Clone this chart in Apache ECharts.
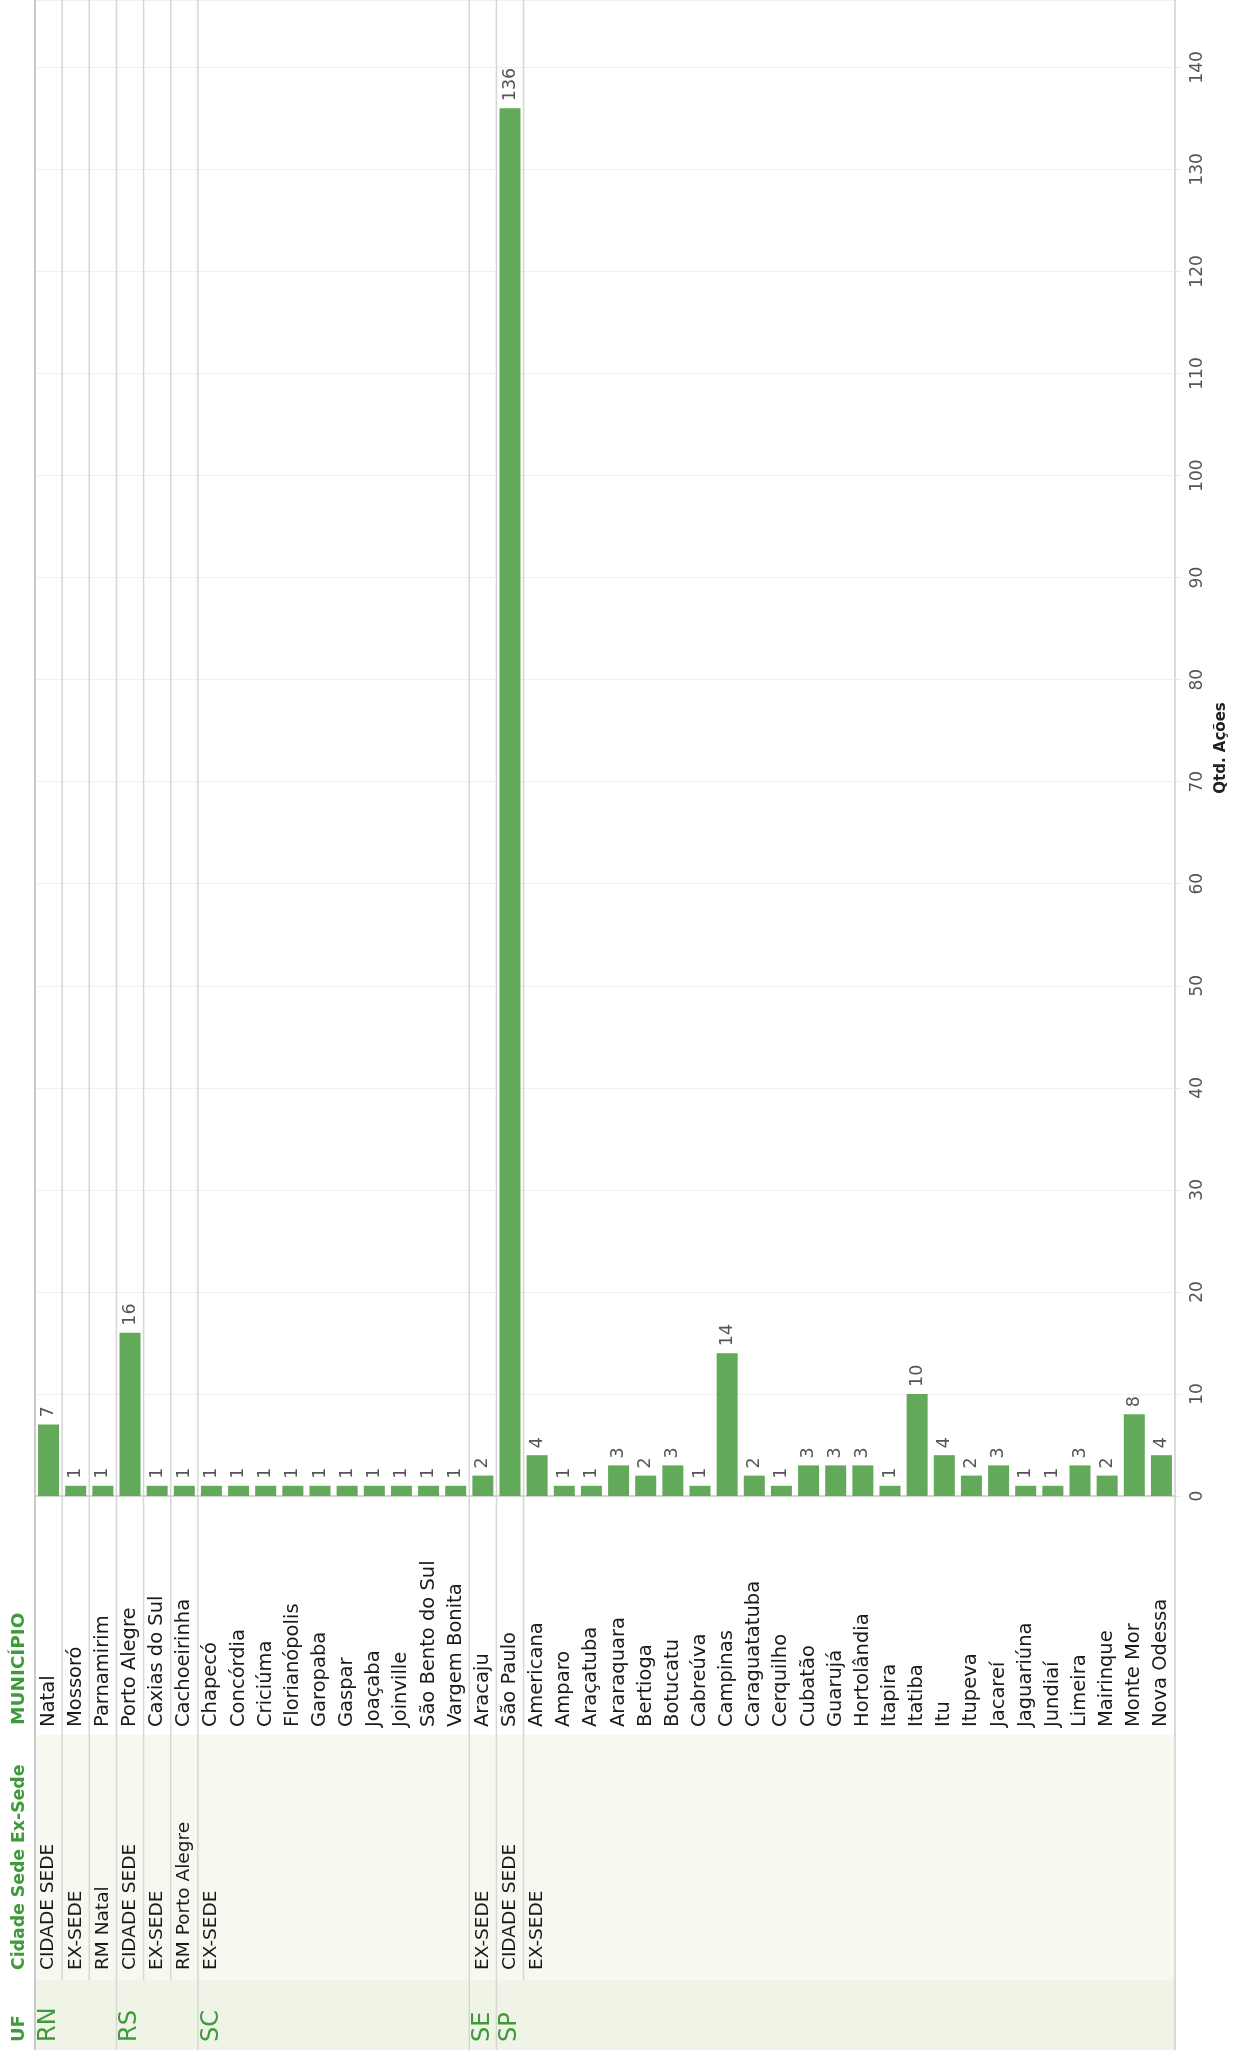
<!DOCTYPE html>
<html>
<head>
<meta charset="utf-8">
<script src="https://cdn.jsdelivr.net/npm/echarts@6/dist/echarts.min.js"></script>
<style>
html,body{margin:0;padding:0;background:#ffffff;}
#chart{width:1240px;height:2056px;}
</style>
</head>
<body>
<div id="chart"></div>
<script>
// ---------- DATA ----------
const municipios = [
  'Natal','Mossoró','Parnamirim',
  'Porto Alegre','Caxias do Sul','Cachoeirinha',
  'Chapecó','Concórdia','Criciúma','Florianópolis','Garopaba','Gaspar','Joaçaba','Joinville','São Bento do Sul','Vargem Bonita',
  'Aracaju',
  'São Paulo','Americana','Amparo','Araçatuba','Araraquara','Bertioga','Botucatu','Cabreúva','Campinas','Caraguatatuba','Cerquilho','Cubatão','Guarujá','Hortolândia','Itapira','Itatiba','Itu','Itupeva','Jacareí','Jaguariúna','Jundiaí','Limeira','Mairinque','Monte Mor','Nova Odessa'
];
const ufLinha = [
  'RN','RN','RN',
  'RS','RS','RS',
  'SC','SC','SC','SC','SC','SC','SC','SC','SC','SC',
  'SE',
  'SP','SP','SP','SP','SP','SP','SP','SP','SP','SP','SP','SP','SP','SP','SP','SP','SP','SP','SP','SP','SP','SP','SP','SP','SP'
];
const cidadeSede = [
  'CIDADE SEDE','EX-SEDE','RM Natal',
  'CIDADE SEDE','EX-SEDE','RM Porto Alegre',
  'EX-SEDE','EX-SEDE','EX-SEDE','EX-SEDE','EX-SEDE','EX-SEDE','EX-SEDE','EX-SEDE','EX-SEDE','EX-SEDE',
  'EX-SEDE',
  'CIDADE SEDE','EX-SEDE','EX-SEDE','EX-SEDE','EX-SEDE','EX-SEDE','EX-SEDE','EX-SEDE','EX-SEDE','EX-SEDE','EX-SEDE','EX-SEDE','EX-SEDE','EX-SEDE','EX-SEDE','EX-SEDE','EX-SEDE','EX-SEDE','EX-SEDE','EX-SEDE','EX-SEDE','EX-SEDE','EX-SEDE','EX-SEDE','EX-SEDE'
];
const qtdAcoes = [
  7,1,1,
  16,1,1,
  1,1,1,1,1,1,1,1,1,1,
  2,
  136,4,1,1,3,2,3,1,14,2,1,3,3,3,1,10,4,2,3,1,1,3,2,8,4
];
const eixoTicks = [0,10,20,30,40,50,60,70,80,90,100,110,120,130,140];
const cabecalhos = { municipio: 'MUNICÍPIO', cidade: 'Cidade Sede Ex-Sede', uf: 'UF' };
const tituloEixo = 'Qtd. Ações';

// ---------- STYLE / LAYOUT ----------
const FONT = 'DejaVu Sans';
const GREEN = '#3f9a3a';
const BAR = '#62a95a';
const SEP = '#d6d6d6';
const L = { left: 35, right: 1175, zero: 1496, munY: 1727, bandTop: 1735, ufTop: 1980, bottom: 2050, cidY: 1970, ufY: 2042 };

function renderHeader(params, api) {
  const i = params.dataIndex;
  const c = api.coord([i, 0]);
  const w = api.size([1, 0])[0];
  const xl = c[0] - w / 2;
  const kids = [];
  const novoUF = i === 0 || ufLinha[i] !== ufLinha[i - 1];
  const novoGrupo = novoUF || cidadeSede[i] !== cidadeSede[i - 1];
  if (novoGrupo) {
    kids.push({
      type: 'line',
      shape: { x1: xl, y1: 0, x2: xl, y2: novoUF ? L.bottom : L.ufTop },
      style: { stroke: i === 0 ? '#c9c9c9' : SEP, lineWidth: i === 0 ? 2 : 1.5 }
    });
    kids.push({
      type: 'text', x: c[0], y: L.cidY, rotation: Math.PI / 2,
      style: { text: cidadeSede[i], fontFamily: FONT, fontSize: 18.5, fill: '#1a1a1a', align: 'left', verticalAlign: 'middle' }
    });
  }
  if (novoUF) {
    kids.push({
      type: 'text', x: c[0], y: L.ufY, rotation: Math.PI / 2,
      style: { text: ufLinha[i], fontFamily: FONT, fontSize: 24, fill: GREEN, align: 'left', verticalAlign: 'middle' }
    });
  }
  if (i === municipios.length - 1) {
    kids.push({
      type: 'line',
      shape: { x1: xl + w, y1: L.zero, x2: xl + w, y2: L.bottom },
      style: { stroke: '#cfcfcf', lineWidth: 1.5 }
    });
  }
  return { type: 'group', children: kids };
}

const chart = echarts.init(document.getElementById('chart'), null, { renderer: 'canvas' });
chart.setOption({
  animation: false,
  backgroundColor: '#ffffff',
  grid: { left: L.left, right: 1240 - L.right, top: 0, bottom: 2056 - L.zero, containLabel: false },
  xAxis: {
    type: 'category',
    data: municipios,
    axisTick: { show: false },
    axisLine: { show: true, lineStyle: { color: '#d3d3d3', width: 2 } },
    splitLine: { show: false },
    axisLabel: {
      interval: 0, rotate: 90, align: 'left', verticalAlign: 'middle',
      margin: L.munY - L.zero,
      fontFamily: FONT, fontSize: 19.5, color: '#1a1a1a'
    }
  },
  yAxis: {
    type: 'value',
    position: 'right',
    min: 0, max: 146.6, interval: 10,
    axisLine: { show: true, lineStyle: { color: '#cfcfcf', width: 1.5 } },
    axisTick: { show: true, length: 7, lineStyle: { color: '#ececec' } },
    splitLine: { show: true, lineStyle: { color: '#f0f0f0', width: 1 } },
    axisLabel: {
      showMaxLabel: false, rotate: 90, margin: 14,
      fontFamily: FONT, fontSize: 17, color: '#555555',
      formatter: v => (eixoTicks.indexOf(v) >= 0 ? String(v) : '')
    },
    name: tituloEixo,
    nameLocation: 'middle',
    nameRotate: 90,
    nameGap: 30,
    nameTextStyle: { fontFamily: FONT, fontWeight: 'bold', fontSize: 15, color: '#222222' }
  },
  graphic: [
    { type: 'rect', z: 0, silent: true, shape: { x: L.left, y: L.bandTop, width: L.right - L.left, height: L.ufTop - L.bandTop }, style: { fill: '#f6f9f0' } },
    { type: 'rect', z: 0, silent: true, shape: { x: L.left, y: L.ufTop, width: L.right - L.left, height: L.bottom - L.ufTop }, style: { fill: '#f0f4e7' } },
    { type: 'text', z: 10, x: 19.5, y: L.munY - 2, rotation: Math.PI / 2, style: { text: cabecalhos.municipio, fontFamily: FONT, fontWeight: 'bold', fontSize: 18.5, fill: GREEN, align: 'left', verticalAlign: 'middle' } },
    { type: 'text', z: 10, x: 19.5, y: L.cidY, rotation: Math.PI / 2, style: { text: cabecalhos.cidade, fontFamily: FONT, fontWeight: 'bold', fontSize: 17.3, fill: GREEN, align: 'left', verticalAlign: 'middle' } },
    { type: 'text', z: 10, x: 19.5, y: L.ufY, rotation: Math.PI / 2, style: { text: cabecalhos.uf, fontFamily: FONT, fontWeight: 'bold', fontSize: 18, fill: GREEN, align: 'left', verticalAlign: 'middle' } }
  ],
  series: [
    {
      type: 'custom', z: 1, silent: true, clip: false,
      renderItem: renderHeader,
      data: municipios.map((m, i) => [i, 0]),
      encode: { x: 0, y: 1 }
    },
    {
      type: 'bar', z: 3,
      data: qtdAcoes,
      barWidth: 21,
      itemStyle: { color: BAR },
      label: {
        show: true, position: 'top', rotate: 90, align: 'left', verticalAlign: 'middle', distance: 7,
        fontFamily: FONT, fontSize: 17.5, color: '#555555'
      }
    }
  ]
});
</script>
</body>
</html>
